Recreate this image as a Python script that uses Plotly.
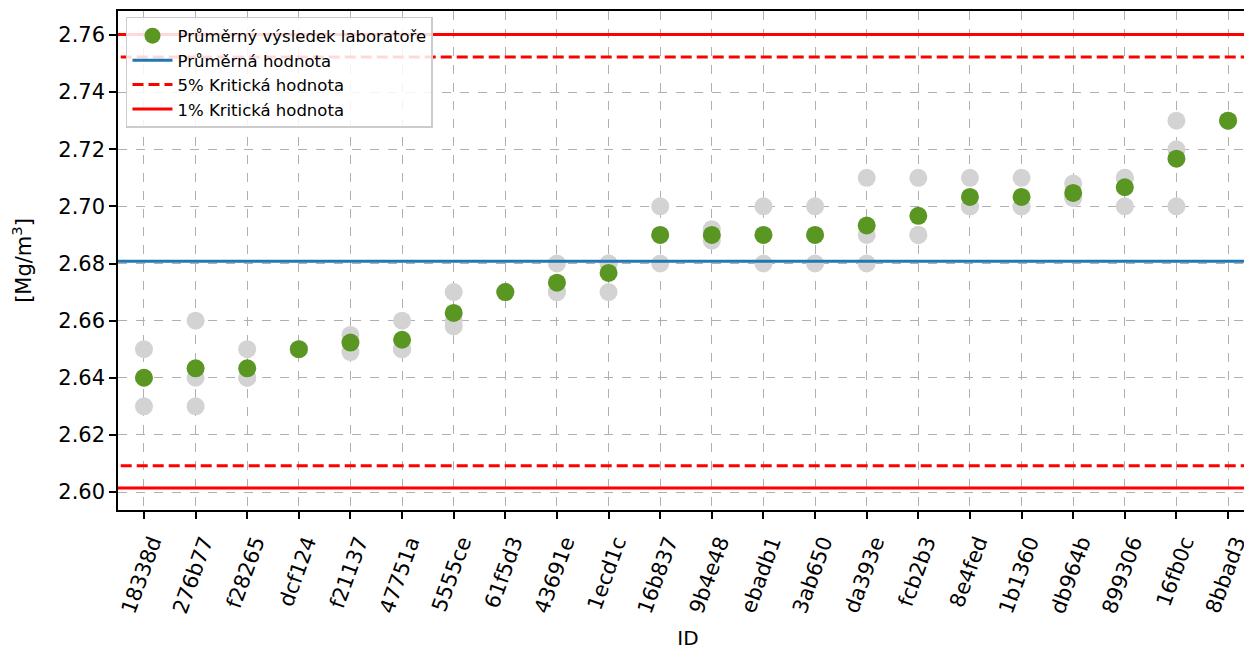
import plotly.graph_objects as go

ids = ["18338d", "276b77", "f28265", "dcf124", "f21137", "47751a", "5555ce", "61f5d3",
       "43691e", "1ecd1c", "16b837", "9b4e48", "ebadb1", "3ab650", "da393e", "fcb2b3",
       "8e4fed", "1b1360", "db964b", "899306", "16fb0c", "8bbad3"]

result_1 = [2.630, 2.630, 2.640, 2.650, 2.649, 2.650, 2.658, 2.670, 2.670, 2.670, 2.680,
            2.688, 2.680, 2.680, 2.680, 2.690, 2.700, 2.700, 2.703, 2.700, 2.700, 2.730]
result_2 = [2.640, 2.640, 2.640, 2.650, 2.653, 2.650, 2.660, 2.670, 2.670, 2.680, 2.690,
            2.690, 2.690, 2.690, 2.690, 2.690, 2.700, 2.700, 2.703, 2.710, 2.720, 2.730]
result_3 = [2.650, 2.660, 2.650, 2.650, 2.655, 2.660, 2.670, 2.670, 2.680, 2.680, 2.700,
            2.692, 2.700, 2.700, 2.710, 2.710, 2.710, 2.710, 2.708, 2.710, 2.730, 2.730]

lab_mean = [2.6400, 2.6433, 2.6433, 2.6500, 2.6523, 2.6533, 2.6627, 2.6700, 2.6733, 2.6767,
            2.6900, 2.6900, 2.6900, 2.6900, 2.6933, 2.6967, 2.7033, 2.7033, 2.7047, 2.7067,
            2.7167, 2.7300]

mean_value = 2.6808
crit5 = [2.6092, 2.7523]
crit1 = [2.6014, 2.7602]

y_ticks = [2.60, 2.62, 2.64, 2.66, 2.68, 2.70, 2.72, 2.74, 2.76]

FONT = "DejaVu Sans"
GREEN = "#5a9622"
GREY = "#d3d3d3"

xs = list(range(len(ids)))
x_line = [-2, len(ids) + 2]

fig = go.Figure()

for res in (result_1, result_2, result_3):
    fig.add_trace(go.Scatter(x=xs, y=res, mode="markers", showlegend=False,
                             marker=dict(color=GREY, size=18, line=dict(width=0)),
                             hoverinfo="skip"))

fig.add_trace(go.Scatter(x=xs, y=lab_mean, mode="markers", name="Průměrný výsledek laboratoře",
                         marker=dict(color=GREEN, size=18, line=dict(width=0))))

fig.add_trace(go.Scatter(x=x_line, y=[mean_value, mean_value], mode="lines",
                         name="Průměrná hodnota", line=dict(color="#1f77b4", width=3)))

fig.add_trace(go.Scatter(x=x_line, y=[crit5[0], crit5[0]], mode="lines",
                         name="5% Kritická hodnota", legendgroup="c5",
                         line=dict(color="#ff0000", width=3, dash="11px,5px")))
fig.add_trace(go.Scatter(x=x_line, y=[crit5[1], crit5[1]], mode="lines", showlegend=False,
                         legendgroup="c5",
                         line=dict(color="#ff0000", width=3, dash="11px,5px")))

fig.add_trace(go.Scatter(x=x_line, y=[crit1[0], crit1[0]], mode="lines",
                         name="1% Kritická hodnota", legendgroup="c1",
                         line=dict(color="#ff0000", width=3)))
fig.add_trace(go.Scatter(x=x_line, y=[crit1[1], crit1[1]], mode="lines", showlegend=False,
                         legendgroup="c1",
                         line=dict(color="#ff0000", width=3)))

fig.update_layout(
    width=1252, height=650,
    margin=dict(l=110, r=0, t=3, b=148),
    paper_bgcolor="white", plot_bgcolor="white",
    font=dict(family=FONT, color="black", size=20),
    showlegend=True,
    legend=dict(x=0.007, y=0.988, xanchor="left", yanchor="top",
                bgcolor="rgba(255,255,255,0.85)", bordercolor="#cccccc", borderwidth=1.5,
                font=dict(family=FONT, size=16.5), traceorder="normal",
                itemwidth=40, tracegroupgap=0),
    xaxis=dict(
        range=[-0.503, 21.58], tickmode="array", tickvals=xs, ticktext=ids,
        tickangle=-70, ticks="outside", ticklen=7, tickwidth=1.5, tickcolor="black",
        tickfont=dict(family=FONT, size=21), automargin=True,
        ticklabelshift=8, ticklabelstandoff=3,
        showgrid=True, gridcolor="#b0b0b0", griddash="dash", gridwidth=1,
        showline=True, linecolor="black", linewidth=1.5, mirror=True,
        zeroline=False,
        title=dict(text="ID", font=dict(family=FONT, size=20), standoff=15),
    ),
    yaxis=dict(
        range=[2.5937, 2.7684], tickmode="array", tickvals=y_ticks,
        ticktext=[f"{v:.2f}" for v in y_ticks],
        ticks="outside", ticklen=7, tickwidth=1.5, tickcolor="black",
        tickfont=dict(family=FONT, size=21), automargin=True,
        showgrid=True, gridcolor="#b0b0b0", griddash="dash", gridwidth=1,
        showline=True, linecolor="black", linewidth=1.5, mirror=True,
        zeroline=False,
        title=dict(text="[Mg/m<sup>3</sup>]", font=dict(family=FONT, size=21), standoff=22),
    ),
)

fig.write_html("out.html")
